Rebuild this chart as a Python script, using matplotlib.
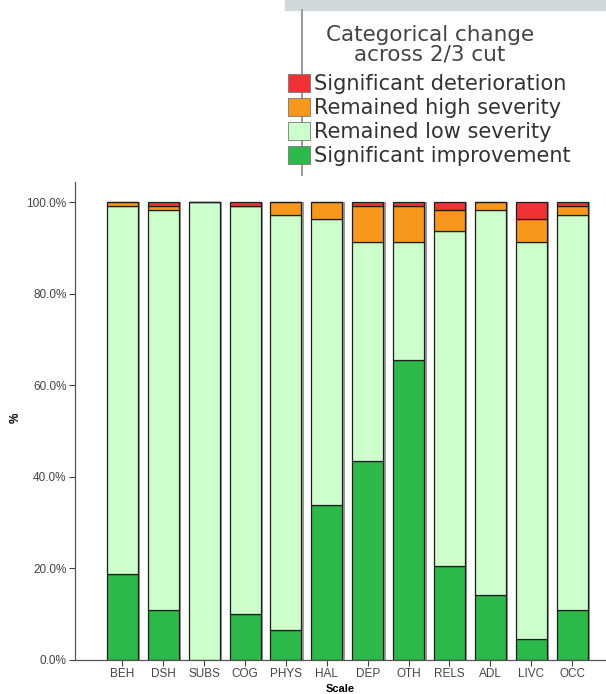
import numpy as np
import matplotlib.pyplot as plt
from matplotlib.patches import Patch, Rectangle
from matplotlib.lines import Line2D

plt.rcParams['font.family'] = ['Liberation Sans', 'DejaVu Sans']

scales = ['BEH', 'DSH', 'SUBS', 'COG', 'PHYS', 'HAL', 'DEP', 'OTH', 'RELS', 'ADL', 'LIVC', 'OCC']
improve = [18.8, 10.9, 0.0, 10.0, 6.5, 33.8, 43.5, 65.5, 20.5, 14.3, 4.6, 10.9]
high_sev = [0.9, 0.9, 0.0, 0.0, 2.7, 3.6, 7.9, 7.9, 4.4, 1.8, 5.2, 1.8]
deteriorate = [0.0, 0.9, 0.0, 0.9, 0.0, 0.0, 0.9, 0.9, 1.8, 0.0, 3.6, 0.9]
low_sev = [100 - a - b - c for a, b, c in zip(improve, high_sev, deteriorate)]

labels = ['Significant deterioration', 'Remained high severity',
          'Remained low severity', 'Significant improvement']
colors = {'det': '#f03237', 'high': '#f7981d', 'low': '#ccffcc', 'imp': '#2db84a'}

fig = plt.figure(figsize=(6.06, 6.94), dpi=100)
ax = fig.add_axes([75 / 606, 34 / 694, 531 / 606, 478 / 694])

x = np.arange(len(scales))
w = 0.76
b1 = np.array(improve)
b2 = b1 + np.array(low_sev)
b3 = b2 + np.array(high_sev)
tot = b3 + np.array(deteriorate)

# grey shadow on the right of each bar
ax.bar(x + 0.06, tot, w, color='#9a9a9a', zorder=1)
kw = dict(width=w, edgecolor='#1e1e1e', linewidth=0.9, zorder=2)
ax.bar(x, improve, color=colors['imp'], **kw)
ax.bar(x, low_sev, bottom=b1, color=colors['low'], **kw)
ax.bar(x, high_sev, bottom=b2, color=colors['high'], **kw)
ax.bar(x, deteriorate, bottom=b3, color=colors['det'], **kw)

ax.set_xlim(-1.16, 11.83)
ax.set_ylim(0, 104.4)
ax.set_yticks([0, 20, 40, 60, 80, 100])
ax.set_yticklabels(['%.1f%%' % v for v in [0, 20, 40, 60, 80, 100]])
ax.set_xticks(x)
ax.set_xticklabels(scales)
ax.tick_params(axis='both', labelsize=8.5, colors='#444444', length=4, width=0.8, pad=2)
for s in ['top', 'right']:
    ax.spines[s].set_visible(False)
for s in ['left', 'bottom']:
    ax.spines[s].set_color('#555555')
    ax.spines[s].set_linewidth(0.9)
ax.set_ylabel('%', fontsize=8.5, fontweight='bold', va='center')
ax.yaxis.set_label_coords(-59 / 531, (660 - 418) / 478)
ax.set_xlabel('Scale', fontsize=8, fontweight='bold', labelpad=3)

# legend block at top right
fig.patches.append(Rectangle((285 / 606, 684 / 694), 321 / 606, 10 / 694,
                             transform=fig.transFigure, color='#d3d8da', zorder=0))
fig.lines.append(Line2D([302 / 606, 302 / 606], [519 / 694, 684 / 694],
                        transform=fig.transFigure, color='#888888', linewidth=1.2))
fig.text(430 / 606, 1 - 45 / 694, 'Categorical change\nacross 2/3 cut', ha='center',
         va='center', fontsize=15.5, family='DejaVu Sans', color='#444444', linespacing=0.95)
handles = [Patch(facecolor=colors[k], edgecolor='#777777', linewidth=0.6)
           for k in ['det', 'high', 'low', 'imp']]
leg = fig.legend(handles, labels, loc='upper left', bbox_to_anchor=(288 / 606, 1 - 74 / 694),
                 frameon=False, prop={'family': 'DejaVu Sans', 'size': 15},
                 handlelength=1.05, handleheight=0.95, handletextpad=0.2,
                 labelspacing=0.18, borderpad=0, borderaxespad=0)
for t in leg.get_texts():
    t.set_color('#333333')

fig.savefig('out.png', dpi=100)
